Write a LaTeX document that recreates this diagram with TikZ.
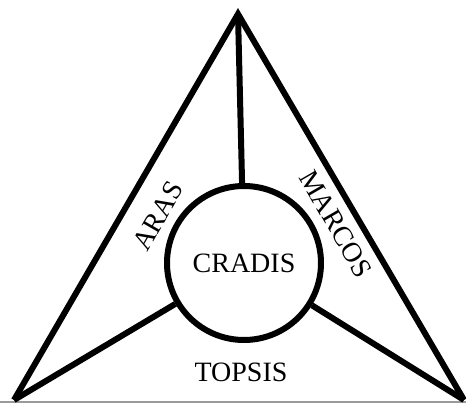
\documentclass[tikz,border=0pt]{standalone}
\usepackage{fontspec}
\setmainfont{Liberation Serif}
\usepackage{tikz}
\usetikzlibrary{calc,positioning}
\definecolor{basec}{HTML}{9A9A9A}
\tikzset{
  edge/.style={line width=6pt,black,line join=miter},
  hub/.style={circle,draw=black,line width=6pt,fill=white,minimum size=154pt,inner sep=0pt,font=\fontsize{28}{30}\selectfont},
  lbl/.style={font=\fontsize{28}{30}\selectfont,inner sep=0pt}
}
\begin{document}
\begin{tikzpicture}[x=1pt,y=-1pt]
\useasboundingbox (0,0) rectangle (466,403);
\coordinate (apex) at (238,14);
\coordinate (bl) at (14,400);
\coordinate (br) at (464,400);
\draw[basec,line width=1.4pt] (0,402) -- (466,402);
\draw[edge] (bl) -- (apex) -- (br);
\node[hub] (cradis) at (244,263) {CRADIS};
\draw[edge] (apex) -- (cradis);
\draw[edge] (bl) -- (cradis);
\draw[edge] (br) -- (cradis);
\node[lbl,rotate=60] (aras) at (158,216) {ARAS};
\node[lbl,rotate=-60] (marcos) at (336,224) {MARCOS};
\node[lbl] (topsis) at (241,372) {TOPSIS};
\end{tikzpicture}
\end{document}
